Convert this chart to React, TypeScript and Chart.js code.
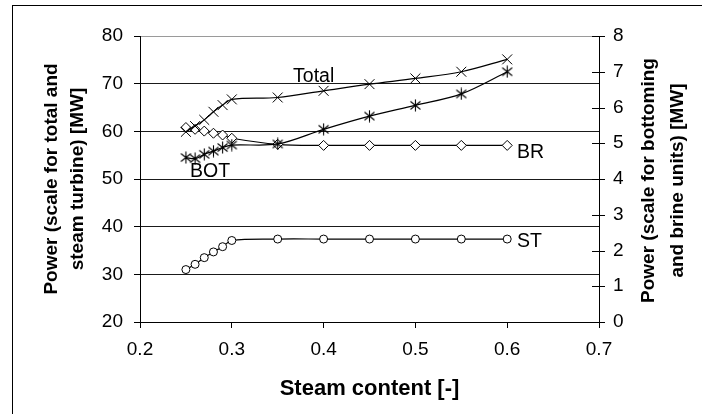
import React, { useEffect, useRef } from 'react';
import { Chart, registerables } from 'chart.js';

Chart.register(...registerables);

// ---- data ----
const steamContent = [0.25, 0.26, 0.27, 0.28, 0.29, 0.3, 0.35, 0.4, 0.45, 0.5, 0.55, 0.6];
const totalPower = [59.9, 61.1, 62.4, 64.1, 65.5, 66.7, 67.1, 68.5, 69.9, 71.1, 72.5, 75.1];
const stPower = [31.0, 32.1, 33.5, 34.7, 35.8, 37.1, 37.4, 37.4, 37.4, 37.4, 37.4, 37.4];
const botPower = [4.6, 4.57, 4.69, 4.78, 4.88, 4.95, 4.98, 5.39, 5.76, 6.06, 6.38, 7.0];
const brPower = [5.44, 5.39, 5.34, 5.28, 5.23, 5.14, 4.97, 4.94, 4.94, 4.94, 4.94, 4.94];

const xTicks = [0.2, 0.3, 0.4, 0.5, 0.6, 0.7];
const leftTicks = [20, 30, 40, 50, 60, 70, 80];
const rightTicks = [0, 1, 2, 3, 4, 5, 6, 7, 8];

const xTitle = 'Steam content [-]';
const leftTitle = ['Power (scale for total and', 'steam turbine) [MW]'];
const rightTitle = ['Power (scale for bottoming', 'and brine units) [MW]'];

// series name labels, anchored in data units (x, left-axis value)
const seriesLabels = [
  { text: 'Total', x: 0.3667, y: 70.35 },
  { text: 'BOT', x: 0.2545, y: 50.4 },
  { text: 'BR', x: 0.6107, y: 54.4 },
  { text: 'ST', x: 0.6107, y: 35.74 },
];

const FONT = '"Liberation Sans", Arial, sans-serif';

function makeAsterisk(): HTMLCanvasElement {
  const c = document.createElement('canvas');
  c.width = 13;
  c.height = 13;
  const g = c.getContext('2d')!;
  g.strokeStyle = '#000';
  g.lineWidth = 1.1;
  g.beginPath();
  g.moveTo(6.5, 0.5);
  g.lineTo(6.5, 12.5);
  g.moveTo(1.5, 2.5);
  g.lineTo(11.5, 10.5);
  g.moveTo(11.5, 2.5);
  g.lineTo(1.5, 10.5);
  g.stroke();
  return c;
}

const overlayPlugin = {
  id: 'overlay',
  afterDraw(chart: any) {
    const { ctx, chartArea, scales } = chart;
    const xs = scales.x;
    const yl = scales.y;
    const yr = scales.y1;
    ctx.save();
    // right-axis crossing tick marks
    ctx.strokeStyle = '#000';
    ctx.lineWidth = 1;
    ctx.beginPath();
    const rx = Math.round(chartArea.right);
    for (const v of rightTicks) {
      const py = Math.round(yr.getPixelForValue(v)) + 0.5;
      ctx.moveTo(rx - 7, py);
      ctx.lineTo(rx + 6, py);
    }
    ctx.stroke();

    // series labels
    ctx.fillStyle = '#000';
    ctx.font = `19.5px ${FONT}`;
    ctx.textAlign = 'left';
    ctx.textBaseline = 'alphabetic';
    for (const l of seriesLabels) {
      ctx.fillText(l.text, xs.getPixelForValue(l.x), yl.getPixelForValue(l.y));
    }

    // axis titles
    const cy = (chartArea.top + chartArea.bottom) / 2;
    ctx.font = `bold 19px ${FONT}`;
    ctx.textAlign = 'center';
    const rot = (text: string, bx: number, y: number) => {
      ctx.save();
      ctx.translate(bx, y);
      ctx.rotate(-Math.PI / 2);
      ctx.fillText(text, 0, 0);
      ctx.restore();
    };
    rot(leftTitle[0], chartArea.left - 83.5, cy);
    rot(leftTitle[1], chartArea.left - 57.5, cy);
    rot(rightTitle[0], chartArea.right + 55, cy + 1.5);
    rot(rightTitle[1], chartArea.right + 83.5, cy + 1.5);

    ctx.font = `bold 22px ${FONT}`;
    ctx.fillText(xTitle, (chartArea.left + chartArea.right) / 2, chartArea.bottom + 73);
    ctx.restore();
  },
};

export default function App() {
  const canvasRef = useRef<HTMLCanvasElement | null>(null);

  useEffect(() => {
    if (!canvasRef.current) return;
    const asterisk = makeAsterisk();
    const toXY = (ys: number[]) => steamContent.map((x, i) => ({ x, y: ys[i] }));
    const lineBase = {
      borderColor: '#000',
      borderWidth: 1.2,
      tension: 0.33,
      pointBorderColor: '#000',
      pointBorderWidth: 1,
      fill: false,
    };
    const chart = new Chart(canvasRef.current, {
      type: 'line',
      data: {
        datasets: [
          {
            ...lineBase,
            label: 'Total',
            data: toXY(totalPower),
            yAxisID: 'y',
            pointStyle: 'crossRot',
            pointRadius: 7,
            pointBackgroundColor: '#000',
          },
          {
            ...lineBase,
            label: 'ST',
            data: toXY(stPower),
            yAxisID: 'y',
            pointStyle: 'circle',
            pointRadius: 4,
            pointBackgroundColor: '#fff',
          },
          {
            ...lineBase,
            label: 'BOT',
            data: toXY(botPower),
            yAxisID: 'y1',
            pointStyle: asterisk as any,
            pointRadius: 6,
          },
          {
            ...lineBase,
            label: 'BR',
            data: toXY(brPower),
            yAxisID: 'y1',
            pointStyle: 'rectRot',
            pointRadius: 5,
            pointBackgroundColor: '#fff',
          },
        ],
      },
      options: {
        animation: false,
        responsive: false,
        devicePixelRatio: 1,
        layout: { padding: { top: 36, left: 0, right: 0, bottom: 0 } },
        plugins: {
          legend: { display: false },
          tooltip: { enabled: false },
          title: { display: false },
        },
        scales: {
          x: {
            type: 'linear',
            position: 'bottom',
            min: 0.2,
            max: 0.7,
            afterBuildTicks: (s: any) => {
              s.ticks = xTicks.map((v) => ({ value: v }));
            },
            afterFit: (s: any) => {
              s.height = 92;
            },
            ticks: {
              color: '#000',
              font: { family: FONT, size: 19 },
              padding: 10,
              maxRotation: 0,
              callback: (v: any) => Number(v).toFixed(1),
            },
            grid: { drawOnChartArea: false, color: '#000', tickLength: 6 },
            border: { display: true, color: '#000', width: 1 },
          },
          y: {
            type: 'linear',
            position: 'left',
            min: 20,
            max: 80,
            afterBuildTicks: (s: any) => {
              s.ticks = leftTicks.map((v) => ({ value: v }));
            },
            afterFit: (s: any) => {
              s.width = 140;
            },
            ticks: {
              color: '#000',
              font: { family: FONT, size: 19 },
              padding: 11,
              callback: (v: any) => String(v),
            },
            grid: {
              color: (c: any) => (c.tick && c.tick.value === 80 ? '#9a9a9a' : '#1a1a1a'),
              tickColor: '#000',
              tickLength: 6,
            },
            border: { display: true, color: '#000', width: 1 },
          },
          y1: {
            type: 'linear',
            position: 'right',
            min: 0,
            max: 8,
            afterBuildTicks: (s: any) => {
              s.ticks = rightTicks.map((v) => ({ value: v }));
            },
            afterFit: (s: any) => {
              s.width = 103;
            },
            ticks: {
              color: '#000',
              font: { family: FONT, size: 19 },
              padding: 14,
              callback: (v: any) => String(v),
            },
            grid: { drawOnChartArea: false, drawTicks: false },
            border: { display: true, color: '#000', width: 1 },
          },
        },
      },
      plugins: [overlayPlugin],
    } as any);
    return () => chart.destroy();
  }, []);

  return (
    <div
      style={{
        position: 'fixed',
        left: 0,
        top: 0,
        width: 702,
        height: 414,
        overflow: 'hidden',
        background: '#fff',
      }}
    >
      <canvas ref={canvasRef} width={702} height={414} style={{ display: 'block' }} />
      <div
        style={{
          position: 'absolute',
          left: 12,
          top: 5,
          width: 720,
          height: 440,
          border: '1px solid #000',
          pointerEvents: 'none',
        }}
      />
    </div>
  );
}
